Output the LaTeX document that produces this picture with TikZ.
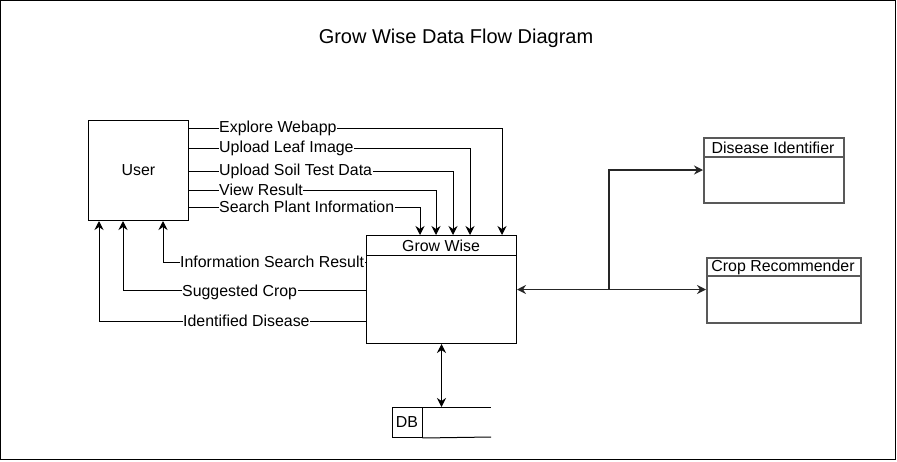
\documentclass[tikz,border=0pt]{standalone}
\usepackage{fontspec}
\setmainfont{Liberation Sans}
\usetikzlibrary{arrows.meta}
\begin{document}
\begin{tikzpicture}[x=1pt,y=-1pt,
  txt/.style={font=\fontsize{15.9}{17}\selectfont},
  lbl/.style={txt, fill=white, inner sep=0.5pt, anchor=west},
  box/.style={draw, line width=1pt, inner sep=0pt, anchor=north west},
  gbox/.style={draw=black!65, line width=1.5pt, inner sep=0pt, anchor=north west},
  flow/.style={draw, line width=1pt, -{Stealth[length=9pt,width=9pt,inset=3pt]}},
  dflow/.style={draw, line width=1pt, {Stealth[length=9pt,width=9pt,inset=3pt]}-{Stealth[length=9pt,width=9pt,inset=3pt]}},
  rflow/.style={draw=black!85, line width=1.5pt, -{Stealth[length=9pt,width=9pt,inset=3pt]}},
  rdflow/.style={draw=black!85, line width=1.5pt, {Stealth[length=9pt,width=9pt,inset=3pt]}-{Stealth[length=9pt,width=9pt,inset=3pt]}}]
\useasboundingbox (0,0) rectangle (897,461);
\draw[line width=1.2pt] (0.6,0.6) rectangle (895.6,459.6);
\node[font=\fontsize{20}{24}\selectfont] (title) at (456,38) {Grow Wise Data Flow Diagram};

% nodes
\node[box, minimum width=100pt, minimum height=100pt] (user) at (88,120) {};
\node[txt] (usert) at (user.center) {User};
\node[box, minimum width=150pt, minimum height=108pt] (gw) at (366,235) {};
\draw[line width=1pt] (366,255) -- (516,255);
\node[txt] (gwt) at (441,245.5) {Grow Wise};
\node[gbox, minimum width=140pt, minimum height=65pt] (di) at (703,137) {};
\draw[draw=black!65, line width=1.5pt] (703,157) -- (843,157);
\node[txt] (dit) at (773,148) {Disease Identifier};
\node[gbox, minimum width=154pt, minimum height=65pt] (cr) at (706,257) {};
\draw[draw=black!65, line width=1.5pt] (706,276) -- (860,276);
\node[txt] (crt) at (783,267) {Crop Recommender};
\node[box, minimum width=30pt, minimum height=30pt, txt] (db) at (391.5,407) {DB};
\draw[line width=1pt] (db.north east) -- (491,407);
\draw[line width=1pt] (db.south east) -- (491,437);

% user -> grow wise
\draw[flow] (user.east |- 0,128) -| (502,0 |- gw.north);
\draw[flow] (user.east |- 0,148) -| (470,0 |- gw.north);
\draw[flow] (user.east |- 0,171) -| (453,0 |- gw.north);
\draw[flow] (user.east |- 0,190) -| (436,0 |- gw.north);
\draw[flow] (user.east |- 0,207) -| (420,0 |- gw.north);
\node[lbl] (l1) at (218.5,128) {Explore Webapp};
\node[lbl] (l2) at (218.5,148) {Upload Leaf Image};
\node[lbl] (l3) at (218.5,171) {Upload Soil Test Data};
\node[lbl] (l4) at (218.5,190) {View Result};
\node[lbl] (l5) at (218.5,207) {Search Plant Information};

% grow wise -> user
\draw[flow] (gw.west |- 0,262) -| (163,0 |- user.south);
\draw[flow] (gw.west |- 0,290) -| (123,0 |- user.south);
\draw[flow] (gw.west |- 0,321) -| (99,0 |- user.south);
\node[lbl] (l6) at (179.5,262) {Information Search Result};
\node[lbl] (l7) at (181.5,292) {Suggested Crop};
\node[lbl] (l8) at (182.5,321) {Identified Disease};
\draw[line width=1pt] (gw.north west) -- (gw.south west);

% right side
\draw[rdflow] (gw.east) -- (cr.west |- gw.east);
\draw[rflow] (609,0 |- gw.east) |- (di.west |- 0,170);

% db
\draw[dflow] (gw.south) -- (gw.south |- db.north);
\end{tikzpicture}
\end{document}
